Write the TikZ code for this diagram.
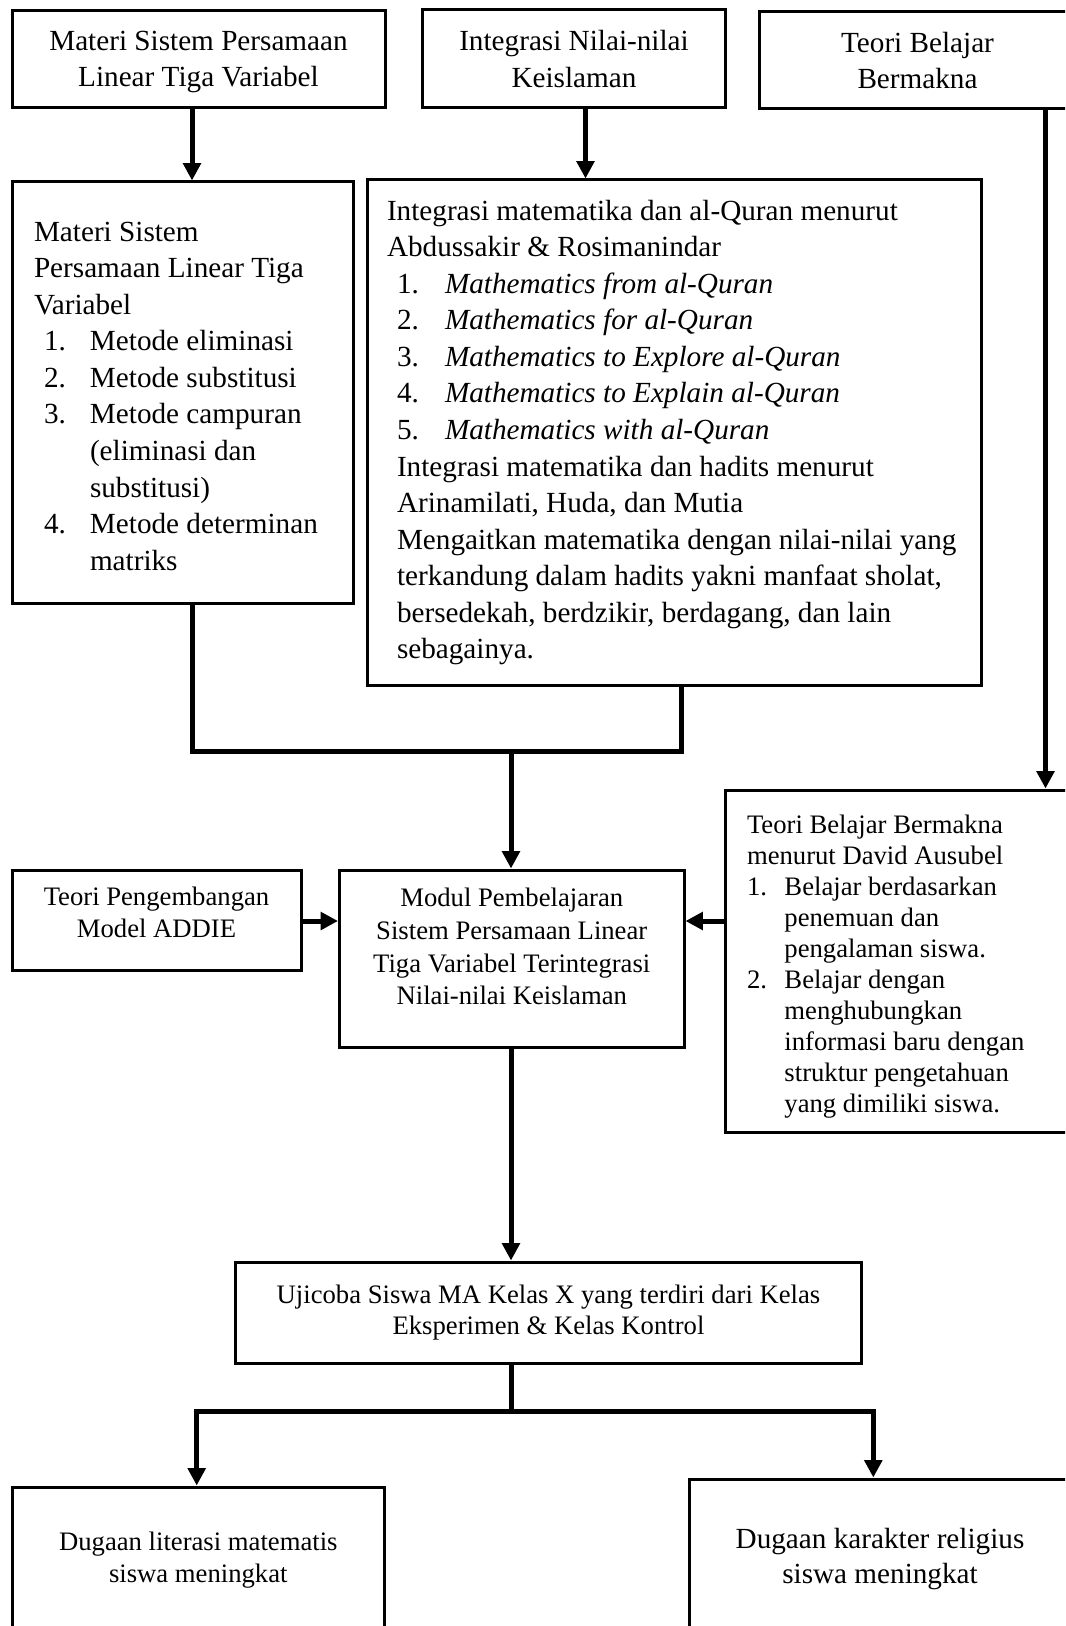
\documentclass[tikz,border=0pt]{standalone}
\usepackage{fontspec}
\setmainfont{Liberation Serif}
\usetikzlibrary{arrows.meta}
\setlength{\parindent}{0pt}

% type sizes (1px = 0.75pt)
\newcommand\fbig{\fontsize{21.9pt}{27.4pt}\selectfont}
\newcommand\fsmall{\fontsize{20pt}{24pt}\selectfont}
% list helpers
\newcommand\ditem[1]{\hspace*{7.5pt}\makebox[34.5pt][l]{#1}}
\newcommand\dcont{\hspace*{42pt}}
\newcommand\ehead{\hspace*{15pt}}
\newcommand\eitem[1]{\hspace*{22.5pt}\makebox[36pt][l]{#1}}
\newcommand\eind{\hspace*{22.5pt}}
\newcommand\fitem[1]{\makebox[28.1pt][l]{#1}}
\newcommand\fcont{\hspace*{28.1pt}}

\begin{document}
\begin{tikzpicture}[x=0.75pt,y=-0.75pt,
  box/.style={draw, line width=2.25pt, rectangle, inner sep=0pt, align=center},
  conn/.style={line width=3.75pt},
  arr/.style={conn, -{Triangle[length=13pt,width=13pt]}},
  arrtwo/.style={conn, {Triangle[length=13pt,width=13pt]}-{Triangle[length=13pt,width=13pt]}}]

\useasboundingbox (0,0) rectangle (1065,1626);
\fill[white] (0,0) rectangle (1065,1626);
\clip (0,0) rectangle (1065,1626);

% top row
\node[box, font=\fbig, minimum width=279.75pt, minimum height=72.75pt] (A) at (198.5,59.5)
  {\rule{0pt}{18pt}Materi Sistem Persamaan\\Linear Tiga Variabel};
\node[box, font=\fbig, minimum width=227.25pt, minimum height=73.5pt] (B) at (574,59)
  {Integrasi Nilai-nilai\\Keislaman};
\node[box, font=\fbig, minimum width=237pt, minimum height=72.75pt] (C) at (917.5,60.5)
  {Teori Belajar\\Bermakna};

% detail boxes
\node[box, font=\fbig, align=flush left, inner xsep=16.5pt, text width=222.75pt,
      minimum width=255.75pt, minimum height=315.75pt] (D) at (182.5,392.5)
  {\rule{0pt}{20pt}Materi Sistem\\
   Persamaan Linear Tiga\\
   Variabel\\
   \ditem{1.}Metode eliminasi\\
   \ditem{2.}Metode substitusi\\
   \ditem{3.}Metode campuran\\
   \dcont(eliminasi dan\\
   \dcont substitusi)\\
   \ditem{4.}Metode determinan\\
   \dcont matriks};

\node[box, font=\fbig, align=flush left, inner xsep=0pt, text width=460.875pt,
      minimum width=460.875pt, minimum height=378.75pt] (E) at (674.25,432.5)
  {\ehead Integrasi matematika dan al-Quran menurut\\
   \ehead Abdussakir \& Rosimanindar\\
   \eitem{1.}\textit{Mathematics from al-Quran}\\
   \eitem{2.}\textit{Mathematics for al-Quran}\\
   \eitem{3.}\textit{Mathematics to Explore al-Quran}\\
   \eitem{4.}\textit{Mathematics to Explain al-Quran}\\
   \eitem{5.}\textit{Mathematics with al-Quran}\\
   \eind Integrasi matematika dan hadits menurut\\
   \eind Arinamilati, Huda, dan Mutia\\
   \eind Mengaitkan matematika dengan nilai-nilai yang\\
   \eind terkandung dalam hadits yakni manfaat sholat,\\
   \eind bersedekah, berdzikir, berdagang, dan lain\\
   \eind sebagainya.};

\node[box, font=\fontsize{20pt}{23.25pt}\selectfont, align=flush left, inner xsep=16.5pt, text width=233.25pt,
      minimum width=266.25pt, minimum height=256.5pt] (F) at (902.5,961)
  {\rule{0pt}{23pt}Teori Belajar Bermakna\\
   menurut David Ausubel\\
   \fitem{1.}Belajar berdasarkan\\
   \fcont penemuan dan\\
   \fcont pengalaman siswa.\\
   \fitem{2.}Belajar dengan\\
   \fcont menghubungkan\\
   \fcont informasi baru dengan\\
   \fcont struktur pengetahuan\\
   \fcont yang dimiliki siswa.};

% middle row
\node[box, font=\fsmall, minimum width=216.75pt, minimum height=75pt] (G) at (156.5,920)
  {Teori Pengembangan\\Model ADDIE\rule[-12pt]{0pt}{1pt}};
\node[box, font=\fontsize{20pt}{24.4pt}\selectfont, minimum width=258.375pt, minimum height=132.75pt] (H) at (511.75,958.5)
  {Modul Pembelajaran\\Sistem Persamaan Linear\\Tiga Variabel Terintegrasi\\Nilai-nilai Keislaman\rule[-18pt]{0pt}{1pt}};

% trial and outcomes
\node[box, font=\fontsize{20pt}{22.8pt}\selectfont, minimum width=469.125pt, minimum height=75.75pt] (I) at (548.5,1312.5)
  {Ujicoba Siswa MA Kelas X yang terdiri dari Kelas\\Eksperimen \& Kelas Kontrol};
\node[box, font=\fontsize{20pt}{23.8pt}\selectfont, minimum width=279pt, minimum height=109.5pt] (J) at (198.3,1560)
  {Dugaan literasi matematis\\siswa meningkat};
\node[box, font=\fontsize{21.9pt}{25.7pt}\selectfont, minimum width=286.5pt, minimum height=120pt] (K) at (880,1559)
  {Dugaan karakter religius\\siswa meningkat};

% connector guide positions
\coordinate (xa) at (192,0);
\coordinate (xb) at (585.5,0);
\coordinate (xc) at (1045.5,0);
\coordinate (xe) at (681,0);
\coordinate (xm) at (511,0);
\coordinate (ym) at (0,751);
\coordinate (yg) at (0,921);
\coordinate (yb) at (0,1411.7);
\coordinate (xj) at (196.7,0);
\coordinate (xk) at (873.3,0);

% connectors
\draw[arr] (xa |- A.south) -- (xa |- D.north);
\draw[arr] (xb |- B.south) -- (xb |- E.north);
\draw[arr] (xc |- C.south) -- (xc |- F.north);
\draw[conn] (xa |- D.south) -- (xa |- ym) -- (xe |- ym) -- (xe |- E.south);
\draw[arr] (xm |- ym) -- (xm |- H.north);
\draw[arr] (G.east |- yg) -- (H.west |- yg);
\draw[arr] (F.west |- yg) -- (H.east |- yg);
\draw[arr] (xm |- H.south) -- (xm |- I.north);
\draw[conn] (xm |- I.south) -- (xm |- yb);
\draw[arrtwo] (xj |- J.north) -- (xj |- yb) -- (xk |- yb) -- (xk |- K.north);
\end{tikzpicture}
\end{document}
